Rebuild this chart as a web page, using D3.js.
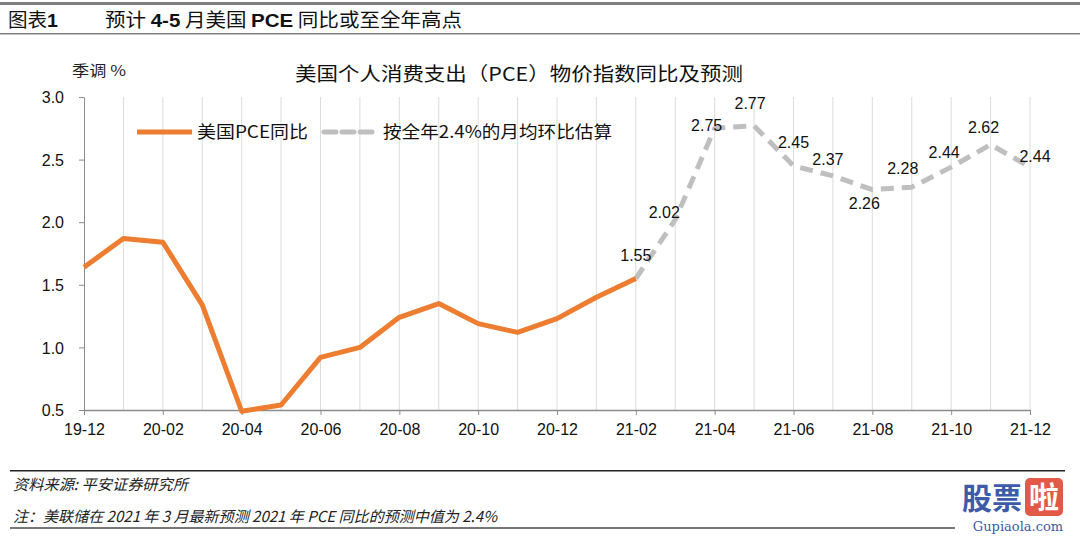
<!DOCTYPE html>
<html><head><meta charset="utf-8">
<script src="https://cdn.jsdelivr.net/npm/d3@7"></script>
<style>
body{margin:0;background:#fff;}
svg{display:block;font-family:"Liberation Sans","Noto Sans CJK SC",Arial,sans-serif;}
</style></head>
<body><svg id="c" width="1080" height="536"></svg>
<script>
const months = ["19-12","20-01","20-02","20-03","20-04","20-05","20-06","20-07","20-08","20-09","20-10","20-11","20-12",
"21-01","21-02","21-03","21-04","21-05","21-06","21-07","21-08","21-09","21-10","21-11","21-12"];
const actualMonths = months.slice(0,15);
const actualValues = [1.64,1.87,1.84,1.34,0.49,0.54,0.92,1.00,1.24,1.35,1.19,1.12,1.23,1.40,1.55];
const forecastMonths = months.slice(14);
const forecastValues = [1.55,2.02,2.75,2.77,2.45,2.37,2.26,2.28,2.44,2.62,2.44];
const yTicks = [0.5,1.0,1.5,2.0,2.5,3.0];
const xTickLabels = months.filter((d,i)=>i%2===0);
// label placement (style only)
const labelOffsets = [[0,-18],[-11,-2],[-8,3],[-4,-17],[0,-18],[-5,-11],[-8,19],[-9,-13],[-7,-9],[-7,-12],[5,-5]];

const svg = d3.select("#c");
const CJK = '"Noto Sans CJK SC","Liberation Sans",sans-serif';
const m = {l:84, r:1030, t:97, b:410};
const x = d3.scalePoint().domain(months).range([m.l,m.r]);
const y = d3.scaleLinear().domain([0.5,3.0]).range([m.b,m.t]);

function fit(sel, len){ sel.attr("textLength",len).attr("lengthAdjust","spacingAndGlyphs"); return sel; }

// header
svg.append("rect").attr("x",0).attr("y",2).attr("width",1080).attr("height",3).attr("fill","#7f7f7f");
svg.append("rect").attr("x",0).attr("y",33).attr("width",1080).attr("height",1.5).attr("fill","#7f7f7f");
fit(svg.append("text").attr("x",8).attr("y",27).attr("font-size",19).attr("font-family",CJK).attr("fill","#111")
  .html('图表<tspan font-weight="bold" font-family="Liberation Sans">1</tspan>'),50);
const h = svg.append("text").attr("x",105).attr("y",27).attr("font-size",19).attr("font-family",CJK).attr("fill","#111");
h.append("tspan").text("预计 ");
h.append("tspan").attr("font-weight","bold").attr("font-family","Liberation Sans").text("4-5");
h.append("tspan").text(" 月美国 ");
h.append("tspan").attr("font-weight","bold").attr("font-family","Liberation Sans").text("PCE");
h.append("tspan").text(" 同比或至全年高点");
fit(h,357);

// chart title
fit(svg.append("text").attr("x",295).attr("y",81).attr("font-size",19).attr("font-family",CJK).attr("fill","#111")
  .text("美国个人消费支出（PCE）物价指数同比及预测"),448);
fit(svg.append("text").attr("x",72).attr("y",76).attr("font-size",15).attr("font-family",CJK).attr("fill","#222").text("季调 %"),54);

// grid
svg.append("g").selectAll("line").data(months.slice(1)).join("line")
  .attr("x1",d=>x(d)).attr("x2",d=>x(d)).attr("y1",m.t).attr("y2",m.b)
  .attr("stroke","#dcdcdc").attr("stroke-width",1);

// axes
const yAxis = svg.append("g").attr("transform",`translate(${m.l},0)`)
  .call(d3.axisLeft(y).tickValues(yTicks).tickFormat(d3.format(".1f")).tickSize(5).tickSizeOuter(0));
yAxis.select(".domain").attr("stroke","#8c8c8c");
yAxis.selectAll(".tick line").attr("stroke","#8c8c8c");
yAxis.selectAll("text").attr("font-size",16).attr("fill","#111").attr("x",-20).attr("dy","0.35em")
  .attr("font-family","Liberation Sans");

const xAxis = svg.append("g").attr("transform",`translate(0,${m.b})`)
  .call(d3.axisBottom(x).tickValues(xTickLabels).tickSize(5).tickSizeOuter(0));
xAxis.select(".domain").attr("stroke","#8c8c8c").attr("stroke-width",1.5);
xAxis.selectAll(".tick line").attr("stroke","#8c8c8c");
xAxis.selectAll("text").attr("font-size",16).attr("fill","#111").attr("y",14).attr("dy","0.71em")
  .attr("font-family","Liberation Sans");

// lines
const line = d3.line().x(d=>x(d[0])).y(d=>y(d[1]));
svg.append("path").datum(forecastMonths.map((d,i)=>[d,forecastValues[i]]))
  .attr("d",line).attr("fill","none").attr("stroke","#bfbfbf").attr("stroke-width",5)
  .attr("stroke-dasharray","13,8").attr("stroke-linejoin","round");
svg.append("path").datum(actualMonths.map((d,i)=>[d,actualValues[i]]))
  .attr("d",line).attr("fill","none").attr("stroke","#ed7d31").attr("stroke-width",5)
  .attr("stroke-linejoin","round");

// labels
svg.append("g").selectAll("text").data(forecastMonths).join("text")
  .attr("x",(d,i)=>x(d)+labelOffsets[i][0]).attr("y",(d,i)=>y(forecastValues[i])+labelOffsets[i][1])
  .attr("text-anchor","middle").attr("font-size",16).attr("fill","#111").attr("font-family","Liberation Sans")
  .text((d,i)=>forecastValues[i].toFixed(2));

// legend
svg.append("line").attr("x1",137).attr("x2",192).attr("y1",132).attr("y2",132).attr("stroke","#ed7d31").attr("stroke-width",5);
fit(svg.append("text").attr("x",197).attr("y",138).attr("font-size",17).attr("font-family",CJK).attr("fill","#111").text("美国PCE同比"),111);
svg.append("line").attr("x1",324).attr("x2",372).attr("y1",132).attr("y2",132).attr("stroke","#bfbfbf").attr("stroke-width",5).attr("stroke-dasharray","12,6").attr("stroke-linecap","round");
fit(svg.append("text").attr("x",383).attr("y",138).attr("font-size",17).attr("font-family",CJK).attr("fill","#111").text("按全年2.4%的月均环比估算"),229);

// footer
svg.append("rect").attr("x",10).attr("y",470).attr("width",1055).attr("height",1.5).attr("fill","#222");
fit(svg.append("text").attr("x",13).attr("y",490).attr("font-size",15).attr("font-style","italic").attr("font-family",CJK).attr("fill","#222")
  .text("资料来源: 平安证券研究所"),175);
fit(svg.append("text").attr("x",13).attr("y",522).attr("font-size",15).attr("font-style","italic").attr("font-family",CJK).attr("fill","#222")
  .text("注：美联储在 2021 年 3 月最新预测 2021 年 PCE 同比的预测中值为 2.4%"),484);
svg.append("rect").attr("x",10).attr("y",527).attr("width",945).attr("height",2).attr("fill","#777");

// watermark
svg.append("text").attr("x",962).attr("y",509).attr("font-size",30).attr("font-weight","bold").attr("font-family",CJK).attr("fill","#3d5ba8").text("股票");
svg.append("rect").attr("x",1025).attr("y",478).attr("width",38).attr("height",38).attr("rx",5).attr("fill","#e05a47");
svg.append("text").attr("x",1044).attr("y",508).attr("text-anchor","middle").attr("font-size",30).attr("font-weight","bold").attr("font-family",CJK).attr("fill","#fff").text("啦");
svg.append("text").attr("x",1018).attr("y",531).attr("text-anchor","middle").attr("font-size",13).attr("font-family","DejaVu Serif").attr("fill","#3d5ba8").text("Gupiaola.com");
</script></body></html>
